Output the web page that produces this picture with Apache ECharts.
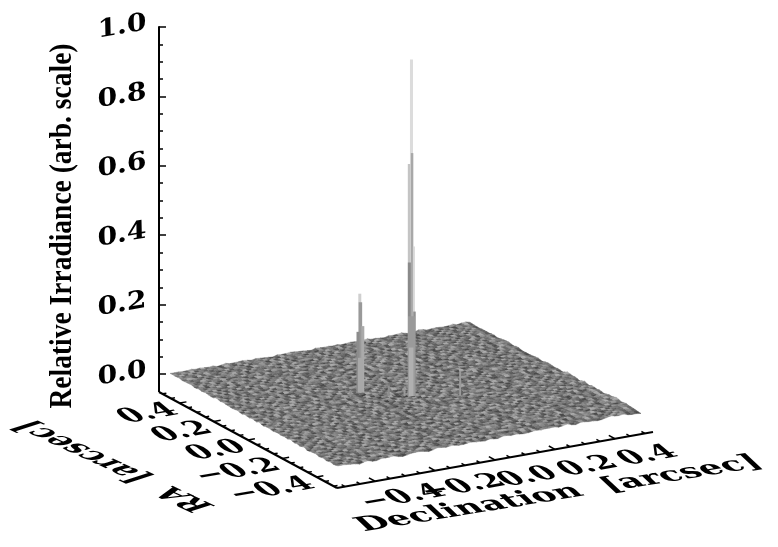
<!DOCTYPE html>
<html><head><meta charset="utf-8">
<style>html,body{margin:0;padding:0;background:#fff}#c{width:778px;height:547px}</style>
<script src="https://cdn.jsdelivr.net/npm/echarts@6/dist/echarts.min.js"></script>
</head><body><div id="c"></div>
<script>
// ---------- data ----------
const zTicks = [0, 0.2, 0.4, 0.6, 0.8, 1.0];
const zTickLabels = ['0.0', '0.2', '0.4', '0.6', '0.8', '1.0'];
const raTicks = [0.4, 0.2, 0, -0.2, -0.4];
const raTickLabels = ['0.4', '0.2', '0.0', '\u22120.2', '\u22120.4'];
const decTicks = [-0.4, -0.2, 0, 0.2, 0.4];
const decTickLabels = ['\u22120.4', '\u22120.2', '0.0', '0.2', '0.4'];
const minorTicks = [-0.5,-0.45,-0.35,-0.3,-0.25,-0.15,-0.1,-0.05,0.05,0.1,0.15,0.25,0.3,0.35,0.45,0.5];
const zTitle = 'Relative Irradiance (arb. scale)';
const raTitle = 'RA  [arcsec]';
const decTitle = 'Declination  [arcsec]';
// narrow columns of the surface that rise above the noise floor
const peakDec = [0.006,0.008,-0.002,0.014,-0.001,0.016,0.006,0.005,-0.107,-0.105,-0.113,-0.097,-0.105,0.128,-0.052,-0.153,-0.012];
const peakRa  = [-0.029,-0.029,-0.029,-0.029,-0.029,-0.029,-0.029,-0.029,0.075,0.075,0.075,0.075,0.075,-0.099,0.002,0.048,-0.02];
const peakZ   = [0.97,0.70,0.67,0.43,0.386,0.242,0.23,0.14,0.285,0.26,0.176,0.19,0.10,0.072,0.03,0.022,0.028];
// noise floor: one brightness level per cell, back edge first, left to right
const floorRows = [
'6573864927 5186374925 7361482957 3614827356 1847295361 4729531684 2736185294',
'7485926374 6295183746 4827193564 8251736492 5374182963 6184293751 3826417592',
'5938274615 7364829156 6192847365 1736495282 8463719254 2957381646 5183927463',
'8264739561 4927561838 5374916283 7492836517 3618254973 7452916383 1946273851',
'6751938426 8153642977 2869371545 3581729464 6927315848 1364827592 7285146392',
'4986273517 3762918456 9416253787 6249183575 1573846297 8295361744 3617492853',
'7352814965 6948173526 3758296141 9173564282 7482936153 4618275396 5293718462',
'5629748316 8427136594 6193825748 2586471396 3914728564 1753862947 8461392573',
'8147365972 2593784618 7541698233 6829317451 5267381944 8392514672 2718463951',
'6483952817 7316482955 4872931666 1394758262 8715264393 2649183757 5374291846',
'3926817584 6851927344 2396574818 7541286939 4173859262 7568142393 1842963571',
'7518364926 4273985161 8645217393 3982764515 6294137858 1385729646 9253618472',
'6274951838 9186473525 3719864242 6253198477 1847356292 5924186373 4716382592',
'4865329716 3752916484 7184253969 8417926353 7592638141 6837124595 2691473865',
'8391746255 6428175937 5962348171 3758642918 2964817353 4175392864 7382951634',
'5746182939 1863549727 4281765394 6921473856 8135294762 7392648153 1548273696',
'6928374151 7495261834 9372816546 4156873929 5318746292 1864952373 6249371855',
'3581926744 8274639151 6538179248 2793561847 7461825393 5926317848 3871452962',
'7264815396 5139847266 2487693151 8315492764 4692738151 8317496252 5184629373',
'9415738262 6382751949 1756342988 5628174393 3857129465 6241873594 7293518466',
'5837261494 7916483525 8243971656 1974385262 9136572841 4785263919 2648195373',
'6192487355 3648529717 5961482373 7385216949 2471895363 8539142766 4173862951',
'8473916526 2571963848 7312658494 4829173566 6358247191 1724683955 9365124782',
'4265837191 9483126757 1846529373 6591738242 8713964525 5382716494 3841957262',
'7538194628 6172845393 9325784611 2467391858 5149263874 7963145282 6172483951',
'3916472585 5843917262 4781269356 8153692474 3286475191 2458713966 1739246853',
'6284759313 8726139545 6397124885 3946281757 9574182363 4681392575 8253741962',
'5741396828 2639485717 2854971363 7618253494 1637298544 8193756423 3946182575',
'8163527494 4195763827 5719368242 1582746939 7425813966 6328971544 2517839463',
'2958463717 7581324966 8264193751 6937415282 4861729353 1574926386 7392648151',
'6327941585 3947258161 1639752484 9271846353 8159362475 3486217597 4618253792',
'7415283969 8162739545 7248361095 3815972644 2693147856 8724195363 1954782636',
'4892617353 5736942818 3691572848 6274019385 7385216491 5291738646 8327159464',
'5163748292 9283571647 8452763916 1593872462 4917658323 6148392575 3769241585',
'8736194255 4617829353 2195847360 7681325949 6283947151 9375621484 1482963752',
'3294581767 7354196282 6381927541 4920573168 1574293866 2836714595 7591368243',
'6581429737 2968714355 9147362857 8153049626 3728651949 6491857323 4372189565',
'9273648515 6145387929 4826593170 6392718454 8196472355 1523968747 5684273191',
'1846392757 8392576146 7531849263 2957481936 5273894166 7649318252 3917546282',
'7359168424 5617834929 2694175381 7348625190 4961537382 3825761494 6281395747',
'4682735916 3928461575 8316497253 5172893846 9628413757 5194732686 1473826959',
'8517392646 7165293484 5273968140 6439182575 1347296588 6382915474 9258136374',
'2964158373 6483917255 9158273646 3827561493 7815629434 2476138959 5392781646',
'6738245919 8251736494 3649152873 8164972352 4392186757 9531674282 2674819535',
'5193867424 2749618535 7281395466 1593847262 6758243191 4867351926 8145392763',
'7826431595 6391582747 4563829171 9278146353 3195762848 7238614595 4913672581',
'3469172856 8517463923 9127485361 5746392818 8264917535 1693528474 6378215949',
'8152693747 4286391575 6739148251 2381657949 5927381646 6419738252 1854962736',
'4793861525 7153826496 2581764393 8946213575 3718296454 8265134979 7391486252',
'6218547393 3972618455 8396452171 4157392686 9642871535 2571948363 5827316494',
'9537126484 6819437252 5174928363 7263815946 1358649727 6498152373 3162975848',
'2681495737 5347261898 1739586424 6928371545 7486153929 3917624585 8645391272',
'7345816926 9268173545 6825419373 3194765828 5231798464 8156372949 4278163595',
'5174293868 4716952383 3981624757 8475139262 6829147353 1743825696 9316427585',
'3862971454 7593184626 8247356191 1628943575 4795318262 6392581747 2518746393',
'8426153979 2361847595 5793128464 6941783252 8173526949 4859163272 7264935181',
'6197382545 8634951272 3148762959 7285319466 2569471383 9317248656 5832164797',
'1758463929 5729163848 6495813272 3581926747 9436175282 7254893161 4691382575',
'7342816595 4186392757 2873961454 9462157383 5187346929 1839526474 8326471595',
'4965182373 8273519646 7158264393 6137849252 3792618545 6481793252 1574936828',
'8231974656 3958647121 9462381575 2895164737 7613529484 2938461575 5268317949',
'5687319242 7142865939 3786125494 8264971535 1429836757 7516392484 9341726585',
'3471862595 6893147252 5241796838 4639152787 8375219646 4182693575 2685749313',
'7926153484 2586419373 8965372141 3517824696 6148392757 9253817646 4197362858',
'6158249373 9327461585 4618597232 7942138565 2896537414 5768123949 3824916575',
'2894736151 5761832949 7392418656 1856943272 4275819363 8134692757 6951382474',
'8315962747 4682197353 1947265838 6328541979 9753142686 3496182757 5182736494',
'5647283919 7935418262 6283157494 4971862353 1348962575 7629153484 8416295373',
'4192837565 1568743929 9475362818 5283196474 6729481353 2815637494 7361948252',
'7856319424 8394216575 3187549262 9362471585 4816293757 6297148353 2579386141'
].map(r => r.replace(/ /g, ''));

// ---------- layout and styles ----------
const layout = {
  floorLeft: [170, 374], floorBack: [470, 322], floorFront: [338, 467], floorRight: [641, 412],
  axisCornerLeft: [159, 392], axisCornerFront: [337, 488], axisCornerRight: [653, 432],
  axisRange: 0.527, raAxisRange: 0.52, zPixels: 347
};
const shades = ['#3e3e3e','#4a4a4a','#555555','#606060','#6a6a6a','#747474','#7e7e7e','#8a8a8a','#989898','#a8a8a8'];
const peakWidths = [3,2.5,2.5,2,3,2.5,7,4.5,3,3.5,3,3,5,2,2,2,2];
const peakShades = ['#dcdcdc','#a8a8a8','#c4c4c4','#d8d8d8','#8a8a8a','#909090','#9a9a9a','#b0b0b0','#cfcfcf','#999999','#8c8c8c','#aaaaaa','#a8a8a8','#9a9a9a','#8e8e8e','#8e8e8e','#9a9a9a'];
const serif = '"DejaVu Serif"';

// ---------- projection of the 3-D box on the page ----------
function project(dec, ra, z) {
  const u = dec + 0.5, v = 0.5 - ra;
  const L = layout.floorLeft, B = layout.floorBack, F = layout.floorFront, R = layout.floorRight;
  const x = L[0]*(1-u)*(1-v) + B[0]*u*(1-v) + F[0]*(1-u)*v + R[0]*u*v;
  const y = L[1]*(1-u)*(1-v) + B[1]*u*(1-v) + F[1]*(1-u)*v + R[1]*u*v;
  return [x, y - (z || 0)*layout.zPixels];
}
function decAxisPoint(dec) {
  const t = (dec + layout.axisRange)/(2*layout.axisRange), a = layout.axisCornerFront, b = layout.axisCornerRight;
  return [a[0] + (b[0]-a[0])*t, a[1] + (b[1]-a[1])*t];
}
function raAxisPoint(ra) {
  const t = (layout.raAxisRange - ra)/(2*layout.raAxisRange), a = layout.axisCornerLeft, b = layout.axisCornerFront;
  return [a[0] + (b[0]-a[0])*t, a[1] + (b[1]-a[1])*t];
}
const nDec = floorRows[0].length, nRa = floorRows.length;
const level = (i, j) => {
  const r = floorRows[Math.max(0, Math.min(nRa-1, j))];
  return +r[Math.max(0, Math.min(r.length-1, i))];
};
function vertexZ(i, j) {
  return ((level(i-1,j-1)+level(i,j-1)+level(i-1,j)+level(i,j))/4 - 4.5)*0.0012;
}
const floorData = [];
for (let j = 0; j < nRa; j++) for (let i = 0; i < nDec; i++) floorData.push([i, j, level(i, j)]);

function skewText(text, p, b, d, size, opts) {
  opts = opts || {};
  const rot = Math.atan2(-b[1], b[0]), ct = Math.cos(rot), st = Math.sin(rot);
  const sx = Math.hypot(b[0], b[1]);
  const k = d[0]*ct - d[1]*st, sy = d[0]*st + d[1]*ct;
  return { type:'text', x:p[0], y:p[1], rotation:rot, scaleX:sx, scaleY:sy, skewX:Math.atan(k/sx), silent:true,
    style:{ text:text, fill:'#000', fontFamily:opts.family||serif, fontSize:size, fontWeight:opts.weight||'bold',
      align:opts.align||'center', verticalAlign:'middle' } };
}
const unit = (v, s) => { const n = Math.hypot(v[0], v[1]); return [v[0]/n*s, v[1]/n*s]; };
const decDir = [300,-52], raDir = [168,93];

// ---------- axis segments and labels ----------
const segments = [
  { a:[layout.axisCornerLeft[0], layout.floorLeft[1]], b:layout.axisCornerLeft, w:2 },
  { a:layout.axisCornerLeft, b:layout.axisCornerFront, w:2 },
  { a:layout.axisCornerFront, b:layout.axisCornerRight, w:2 }
];
function addTick(p, dir, len) {
  const u = unit(dir, len);
  segments.push({ a:p, b:[p[0]+u[0], p[1]+u[1]], w:1.5 });
}
decTicks.forEach(v => addTick(decAxisPoint(v), [-168,-93], 7));
minorTicks.forEach(v => addTick(decAxisPoint(v), [-168,-93], 4));
raTicks.forEach(v => addTick(raAxisPoint(v), decDir, 7));
minorTicks.forEach(v => addTick(raAxisPoint(v), decDir, 4));

const texts = [];
decTicks.forEach((v,i) => {
  const p = decAxisPoint(v);
  texts.push(skewText(decTickLabels[i], [p[0]+(v<0?28:33), p[1]+(v<0?16:17)], unit(decDir,1.55), unit(raDir,1.7), 20));
});
raTicks.forEach((v,i) => {
  const p = raAxisPoint(v);
  texts.push(skewText(raTickLabels[i], [p[0]-5, p[1]+6], unit(decDir,1.55), unit(raDir,1.7), 20, {align:'right'}));
});
zTicks.forEach((v,i) => {
  texts.push(skewText(zTickLabels[i], [122, layout.floorLeft[1]-v*layout.zPixels], unit(decDir,1.43), [0,1.25], 20));
});
texts.push(skewText(zTitle, [63, 226], [0,-1.0], [1.15,0], 27.5, {family:'"Liberation Serif"'}));
texts.push(skewText(decTitle, [559, 494], unit([412,-67],1.73), unit(raDir,1.7), 20));
texts.push(skewText(raTitle, [115, 466], unit([-204,-94],1.5), unit([300,-52],2.0), 20));

// ---------- chart ----------
const chart = echarts.init(document.getElementById('c'), null, { renderer:'canvas', width:778, height:547 });
chart.setOption({
  backgroundColor:'#fff', animation:false,
  grid:[
    { left:0, top:0, width:778, height:547, show:false },
    { left:layout.axisCornerLeft[0], top:layout.floorLeft[1]-layout.zPixels, width:10, height:layout.zPixels, show:false }
  ],
  xAxis:[
    { gridIndex:0, type:'value', min:0, max:778, show:false },
    { gridIndex:1, type:'value', min:0, max:1, show:false }
  ],
  yAxis:[
    { gridIndex:0, type:'value', min:0, max:547, inverse:true, show:false },
    { gridIndex:1, type:'value', min:0, max:1, interval:0.2, position:'left',
      axisLine:{ show:true, onZero:false, lineStyle:{ color:'#000', width:2 } },
      axisTick:{ show:true, inside:true, length:7, lineStyle:{ color:'#000', width:1.5 } },
      minorTick:{ show:true, splitNumber:4, length:4, lineStyle:{ color:'#000', width:1.5 } },
      axisLabel:{ show:false }, splitLine:{ show:false }, minorSplitLine:{ show:false } }
  ],
  series:[
    { type:'custom', coordinateSystem:'cartesian2d', xAxisIndex:0, yAxisIndex:0, clip:false, silent:true, progressive:0,
      data:floorData, encode:{ x:0, y:1 },
      renderItem:(params, api) => {
        const i = api.value(0), j = api.value(1), c = shades[api.value(2)];
        const P = (a, b) => api.coord(project(a/nDec-0.5, 0.5-b/nRa, vertexZ(a, b)));
        return { type:'polygon', shape:{ points:[P(i,j),P(i+1,j),P(i+1,j+1),P(i,j+1)] },
          style:{ fill:c, stroke:c, lineWidth:0.4 } };
      } },
    { type:'custom', coordinateSystem:'cartesian2d', xAxisIndex:0, yAxisIndex:0, clip:false, silent:true, progressive:0,
      data:peakZ.map((z,i) => [peakDec[i], peakRa[i], z]), encode:{ x:0, y:1 },
      renderItem:(params, api) => {
        const k = params.dataIndex, d = api.value(0), r = api.value(1), z = api.value(2), w = peakWidths[k]/2;
        const a = api.coord(project(d, r, 0)), t = api.coord(project(d, r, z));
        return { type:'polygon', shape:{ points:[[t[0]-w,t[1]],[t[0]+w,t[1]],[a[0]+w,a[1]],[a[0]-w,a[1]]] },
          style:{ fill:peakShades[k] } };
      } },
    { type:'custom', coordinateSystem:'cartesian2d', xAxisIndex:0, yAxisIndex:0, clip:false, silent:true, progressive:0,
      data:segments.map((s,i) => [i]), encode:{ x:0 },
      renderItem:(params, api) => {
        const s = segments[params.dataIndex], a = api.coord(s.a), b = api.coord(s.b);
        return { type:'line', shape:{ x1:a[0], y1:a[1], x2:b[0], y2:b[1] }, style:{ stroke:'#000', lineWidth:s.w } };
      } },
    { type:'custom', coordinateSystem:'cartesian2d', xAxisIndex:0, yAxisIndex:0, clip:false, silent:true, progressive:0,
      data:texts.map((s,i) => [i]), encode:{ x:0 },
      renderItem:(params) => texts[params.dataIndex] }
  ]
});
</script></body></html>
